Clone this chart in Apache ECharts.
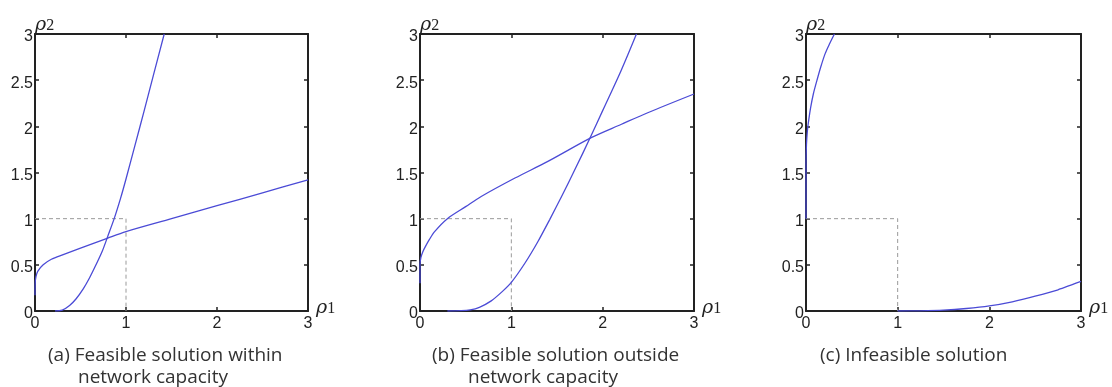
<!DOCTYPE html>
<html>
<head>
<meta charset="utf-8">
<script src="https://cdn.jsdelivr.net/npm/echarts@6/dist/echarts.min.js"></script>
<style>
  html, body { margin: 0; padding: 0; background: #fff; }
  #chart { width: 1112px; height: 387px; }
</style>
</head>
<body>
<div id="chart"></div>
<script>
// Axis ticks shared by all three panels
const xTicks = [0, 1, 2, 3];
const yTicks = [0, 0.5, 1, 1.5, 2, 2.5, 3];

// Unit-capacity region (rho1 <= 1, rho2 <= 1)
const capacityBox = [[0, 1], [1, 1], [1, 0]];

// (a) curves
const aShallow = [[0, 0.17], [0.002, 0.3], [0.01, 0.37], [0.03, 0.43], [0.09, 0.5], [0.18, 0.56],
  [0.31, 0.61], [0.5, 0.68], [0.8, 0.79], [1, 0.86], [1.5, 1.0], [2, 1.14], [2.5, 1.28], [3, 1.42]];
const aSteep = [[0.22, 0], [0.3, 0.01], [0.38, 0.06], [0.45, 0.13], [0.53, 0.24], [0.6, 0.36],
  [0.67, 0.5], [0.74, 0.65], [0.8, 0.81], [0.87, 1.0], [0.94, 1.22], [1.0, 1.43], [1.1, 1.8],
  [1.2, 2.17], [1.3, 2.55], [1.42, 3.0]];

// (b) curves
const bShallow = [[0, 0.3], [0, 0.5], [0.01, 0.58], [0.03, 0.64], [0.06, 0.7], [0.1, 0.77],
  [0.16, 0.86], [0.3, 1.0], [0.5, 1.13], [0.67, 1.24], [1.04, 1.44], [1.4, 1.62], [1.88, 1.88],
  [2.2, 2.02], [2.5, 2.15], [3, 2.35]];
const bSteep = [[0.3, 0], [0.45, 0.003], [0.55, 0.012], [0.65, 0.04], [0.78, 0.11], [0.9, 0.21],
  [1.0, 0.31], [1.15, 0.52], [1.29, 0.75], [1.42, 0.99], [1.55, 1.24], [1.7, 1.54], [1.86, 1.87],
  [2.0, 2.17], [2.2, 2.6], [2.37, 3.0]];

// (c) curves
const cUpper = [[0, 1.0], [0, 1.6], [0.005, 1.8], [0.015, 1.95], [0.03, 2.07], [0.05, 2.2],
  [0.08, 2.35], [0.12, 2.5], [0.16, 2.64], [0.21, 2.79], [0.26, 2.9], [0.31, 3.0]];
const cLower = [[1, 0], [1.25, 0.002], [1.5, 0.009], [1.75, 0.027], [2, 0.055], [2.25, 0.1],
  [2.5, 0.16], [2.75, 0.23], [3, 0.32]];

const panelCurves = [[aShallow, aSteep], [bShallow, bSteep], [cUpper, cLower]];

const captionLine1 = ['(a) Feasible solution within', '(b) Feasible solution outside', '(c) Infeasible solution'];
const captionLine2 = ['network capacity', 'network capacity', ''];

// Layout of the three plot boxes and their captions
const grids = [
  { left: 35, top: 34, width: 273, height: 277 },
  { left: 420, top: 34, width: 274, height: 277 },
  { left: 806, top: 34, width: 275, height: 277 }
];
const captionPos = [
  { x1: 48, x2: 78 },
  { x1: 432, x2: 468 },
  { x1: 820, x2: 0 }
];

const AXIS_COLOR = '#222';
const CURVE_COLOR = '#4b4bd6';

const axisLine = { show: true, onZero: false, lineStyle: { color: AXIS_COLOR, width: 2 } };
const axisTick = { show: true, inside: true, length: 4, lineStyle: { color: AXIS_COLOR, width: 1.5 } };
const xMin = xTicks[0], xMax = xTicks[xTicks.length - 1], xStep = xTicks[1] - xTicks[0];
const yMin = yTicks[0], yMax = yTicks[yTicks.length - 1], yStep = yTicks[1] - yTicks[0];

const xAxes = [], yAxes = [], series = [], graphics = [];

grids.forEach((g, i) => {
  // bottom and top x axes
  xAxes.push({
    type: 'value', gridIndex: i, position: 'bottom', min: xMin, max: xMax, interval: xStep,
    axisLine, axisTick, splitLine: { show: false },
    axisLabel: { fontFamily: 'Liberation Sans', fontSize: 16, color: AXIS_COLOR, margin: 5 }
  });
  xAxes.push({
    type: 'value', gridIndex: i, position: 'top', min: xMin, max: xMax, interval: xStep,
    axisLine, axisTick, splitLine: { show: false }, axisLabel: { show: false }
  });
  // left and right y axes
  yAxes.push({
    type: 'value', gridIndex: i, position: 'left', min: yMin, max: yMax, interval: yStep,
    axisLine, axisTick, splitLine: { show: false },
    axisLabel: { fontFamily: 'Liberation Sans', fontSize: 16, color: AXIS_COLOR, margin: 2,
      verticalAlign: 'top', lineHeight: 6, formatter: v => String(v) }
  });
  yAxes.push({
    type: 'value', gridIndex: i, position: 'right', min: yMin, max: yMax, interval: yStep,
    axisLine, axisTick, splitLine: { show: false }, axisLabel: { show: false }
  });

  series.push({
    type: 'line', xAxisIndex: 2 * i, yAxisIndex: 2 * i, data: capacityBox,
    showSymbol: false, silent: true, z: 1,
    lineStyle: { color: '#9a9a9a', width: 1, type: [4, 3] }
  });
  panelCurves[i].forEach(curve => {
    series.push({
      type: 'line', xAxisIndex: 2 * i, yAxisIndex: 2 * i, data: curve,
      showSymbol: false, silent: true, smooth: 0.3, clip: true, z: 3,
      lineStyle: { color: CURVE_COLOR, width: 1.3 }
    });
  });

  const font = "19px 'Open Sans'";
  graphics.push({
    type: 'text', x: captionPos[i].x1, y: 356,
    style: { text: captionLine1[i], font, fill: '#333', verticalAlign: 'middle' }
  });
  if (captionLine2[i]) {
    graphics.push({
      type: 'text', x: captionPos[i].x2, y: 378,
      style: { text: captionLine2[i], font, fill: '#333', verticalAlign: 'middle' }
    });
  }
});

const chart = echarts.init(document.getElementById('chart'), null, { renderer: 'canvas' });
chart.setOption({
  animation: false,
  backgroundColor: '#fff',
  grid: grids,
  xAxis: xAxes,
  yAxis: yAxes,
  series
});

// Axis symbols rho1 / rho2, placed at the axis ends of each panel
const rich = {
  r: { fontFamily: 'DejaVu Serif', fontStyle: 'italic', fontSize: 19, fill: AXIS_COLOR },
  s: { fontFamily: 'Liberation Serif', fontSize: 16, fill: AXIS_COLOR }
};
grids.forEach((g, i) => {
  const top = chart.convertToPixel({ gridIndex: i }, [xMin, yMax]);
  const right = chart.convertToPixel({ gridIndex: i }, [xMax, yMin]);
  graphics.push({
    type: 'text', x: top[0], y: top[1] + 1,
    style: { text: '{r|ρ}{s|2}', rich, align: 'left', verticalAlign: 'bottom' }
  });
  graphics.push({
    type: 'text', x: right[0] + 8, y: right[1] + 7,
    style: { text: '{r|ρ}{s|1}', rich, align: 'left', verticalAlign: 'bottom' }
  });
});
chart.setOption({ graphic: graphics });
</script>
</body>
</html>
